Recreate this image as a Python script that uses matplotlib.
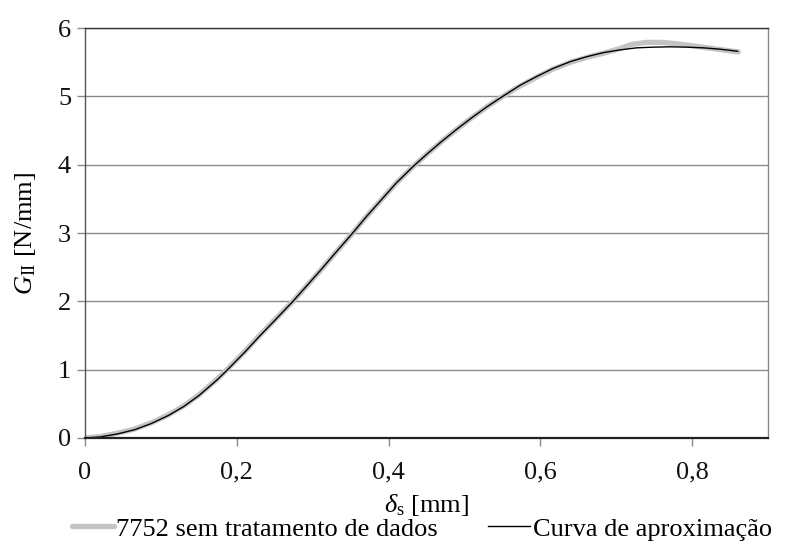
import matplotlib
matplotlib.use("Agg")
import matplotlib.pyplot as plt

plt.rcParams["font.family"] = ["Liberation Serif", "DejaVu Serif"]
plt.rcParams["mathtext.fontset"] = "custom"
plt.rcParams["mathtext.rm"] = "Liberation Serif"
plt.rcParams["mathtext.it"] = "Liberation Serif:italic"

# Raw data (7752 sem tratamento de dados)
x_raw = [0, 0.02, 0.043, 0.065, 0.087, 0.11, 0.13, 0.15, 0.174, 0.187, 0.21,
         0.23, 0.25, 0.274, 0.29, 0.31, 0.33, 0.352, 0.37, 0.39, 0.41, 0.432,
         0.45, 0.47, 0.49, 0.51, 0.53, 0.549, 0.573, 0.595, 0.617, 0.64,
         0.661, 0.683, 0.705, 0.72, 0.74, 0.76, 0.78, 0.80, 0.82, 0.84, 0.861]
y_raw = [0, 0.02, 0.07, 0.13, 0.22, 0.34, 0.47, 0.63, 0.86, 1.0, 1.26,
         1.5, 1.73, 2.0, 2.2, 2.45, 2.71, 2.99, 3.23, 3.48, 3.73, 3.97,
         4.15, 4.34, 4.52, 4.69, 4.85, 4.99, 5.15, 5.28, 5.40, 5.50,
         5.57, 5.63, 5.70, 5.76, 5.79, 5.79, 5.77, 5.74, 5.71, 5.68, 5.65]

# Fitted curve (Curva de aproximação)
x_fit = [0, 0.02, 0.043, 0.065, 0.087, 0.11, 0.13, 0.15, 0.174, 0.187, 0.21,
         0.23, 0.25, 0.274, 0.29, 0.31, 0.33, 0.352, 0.37, 0.39, 0.41, 0.432,
         0.45, 0.47, 0.49, 0.51, 0.53, 0.549, 0.573, 0.595, 0.617, 0.64,
         0.661, 0.683, 0.705, 0.727, 0.749, 0.771, 0.793, 0.815, 0.837, 0.86]
y_fit = [0, 0.015, 0.06, 0.12, 0.21, 0.33, 0.46, 0.62, 0.85, 0.99, 1.25,
         1.49, 1.72, 2.0, 2.2, 2.45, 2.71, 2.99, 3.23, 3.48, 3.73, 3.97,
         4.15, 4.34, 4.52, 4.69, 4.85, 4.99, 5.16, 5.29, 5.41, 5.51,
         5.58, 5.64, 5.68, 5.71, 5.72, 5.725, 5.72, 5.71, 5.69, 5.66]

x_ticks = [0, 0.2, 0.4, 0.6, 0.8]
x_tick_labels = ["0", "0,2", "0,4", "0,6", "0,8"]
y_ticks = [0, 1, 2, 3, 4, 5, 6]

fig = plt.figure(figsize=(7.93, 5.43), dpi=100)
ax = fig.add_axes([0.1072, 0.1934, 0.8613, 0.7550])

ax.plot(x_raw, y_raw, color="#c4c4c4", linewidth=3.8,
        solid_capstyle="round", solid_joinstyle="round",
        label="7752 sem tratamento de dados")
ax.plot(x_fit, y_fit, color="black", linewidth=1.0,
        solid_joinstyle="round", label="Curva de aproximação")

ax.set_xlim(0, 0.9)
ax.set_ylim(0, 6)
ax.set_xticks(x_ticks)
ax.set_xticklabels(x_tick_labels)
ax.set_yticks(y_ticks)

ax.yaxis.grid(True, color="#8a8a8a", linewidth=1.0)
ax.set_axisbelow(True)

ax.spines["left"].set_color("#555555")
ax.spines["left"].set_linewidth(1.0)
ax.spines["bottom"].set_color("#222222")
ax.spines["bottom"].set_linewidth(1.6)
ax.spines["top"].set_color("#333333")
ax.spines["top"].set_linewidth(1.0)
ax.spines["right"].set_color("#8a8a8a")
ax.spines["right"].set_linewidth(1.0)

ax.tick_params(axis="both", direction="out", length=6, width=1.0,
               color="#8a8a8a", labelsize=19, labelcolor="#111111", pad=4)
ax.tick_params(axis="x", pad=11)

ax.set_xlabel(r"$\delta_{\mathrm{s}}$ [mm]", fontsize=19, labelpad=6)
ax.set_ylabel(r"$G_{\mathrm{II}}$ [N/mm]", fontsize=19, labelpad=14)

fig.legend(loc="center", bbox_to_anchor=(0.532, 0.026), ncol=2,
           frameon=False, fontsize=19, handlelength=1.6,
           handletextpad=0.1, columnspacing=1.9, borderaxespad=0)

fig.savefig("out.png", dpi=100)
